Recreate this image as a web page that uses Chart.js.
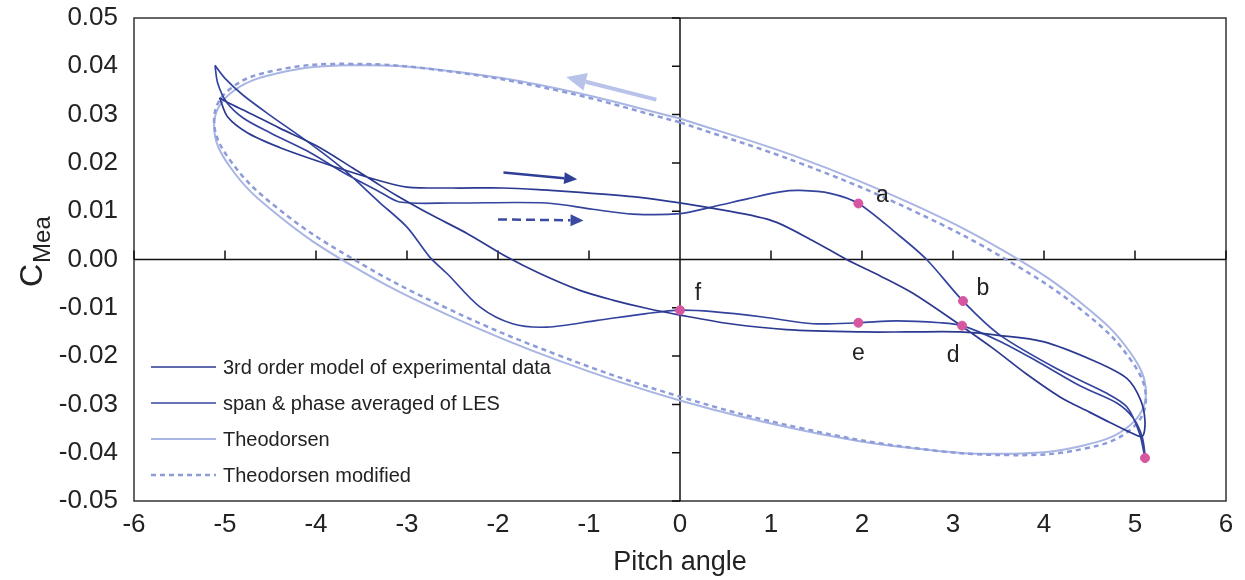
<!DOCTYPE html>
<html>
<head>
<meta charset="utf-8">
<title>Pitching moment hysteresis</title>
<script src="https://cdn.jsdelivr.net/npm/chart.js@4.4.1/dist/chart.umd.min.js"></script>
<style>
  html, body { margin: 0; padding: 0; background: #fff; }
  #wrap { width: 1245px; height: 580px; }
</style>
</head>
<body>
<div id="wrap"><canvas id="chart" width="1245" height="580"></canvas></div>
<script>
// Axis ticks
const pitchTicks = [-6, -5, -4, -3, -2, -1, 0, 1, 2, 3, 4, 5, 6];
const pitchTickLabels = ['-6', '-5', '-4', '-3', '-2', '-1', '0', '1', '2', '3', '4', '5', '6'];
const cmTicks = [-0.05, -0.04, -0.03, -0.02, -0.01, 0, 0.01, 0.02, 0.03, 0.04, 0.05];
const cmTickLabels = ['-0.05', '-0.04', '-0.03', '-0.02', '-0.01', '0.00', '0.01', '0.02', '0.03', '0.04', '0.05'];

// 3rd order model of experimental data (one pitching cycle)
const expPitch = [-5.06, -4.97, -4.75, -4.4, -4.0, -3.6, -3.3, -3.0, -2.5, -1.94, -1.5, -1.1, -0.52, -0.14, 0.3, 1.0, 1.45, 1.83, 2.2, 2.56, 3.08, 3.44, 3.8, 4.18, 4.5, 4.73, 4.95, 5.08, 5.11, 5.06, 4.91, 4.54, 3.99, 3.5, 3.08, 2.5, 2.01, 1.17, 0.55, 0.0, -0.37, -0.74, -1.1, -1.54, -1.9, -2.34, -2.75, -3.11, -3.3, -3.6, -4.0, -4.4, -4.75, -4.97, -5.06];
const expCm = [0.0335, 0.0295, 0.0262, 0.0232, 0.0205, 0.0180, 0.0163, 0.0150, 0.0148, 0.0148, 0.0144, 0.0139, 0.0130, 0.0121, 0.0108, 0.0081, 0.0040, 0.0, -0.0034, -0.0070, -0.0136, -0.0184, -0.0236, -0.0285, -0.0316, -0.0338, -0.0358, -0.0366, -0.0335, -0.0290, -0.0246, -0.0209, -0.0170, -0.0157, -0.0150, -0.0150, -0.0150, -0.0145, -0.0133, -0.0115, -0.0101, -0.0084, -0.0064, -0.0029, 0.0005, 0.0054, 0.0094, 0.0132, 0.0154, 0.0190, 0.0236, 0.0272, 0.0305, 0.0325, 0.0335];

// span & phase averaged LES (one pitching cycle)
const lesPitch = [-5.11, -5.08, -4.98, -4.8, -4.5, -4.1, -3.7, -3.3, -3.08, -2.5, -1.47, -0.96, -0.52, 0.0, 0.36, 0.75, 1.1, 1.32, 1.65, 1.96, 2.38, 2.71, 3.11, 3.52, 4.18, 4.69, 4.91, 5.05, 5.11, 5.08, 4.98, 4.8, 4.4, 3.9, 3.5, 3.1, 2.86, 2.38, 1.96, 1.46, 0.91, 0.36, 0.0, -0.37, -0.91, -1.46, -1.84, -2.2, -2.56, -2.75, -3.0, -3.3, -3.7, -4.1, -4.5, -4.8, -5.0, -5.11];
const lesCm = [0.0402, 0.0365, 0.0325, 0.0293, 0.0262, 0.0225, 0.0180, 0.0140, 0.0119, 0.0117, 0.0117, 0.0104, 0.0094, 0.0095, 0.0109, 0.0126, 0.0140, 0.0143, 0.0137, 0.0116, 0.0054, 0.0, -0.0086, -0.0157, -0.0230, -0.0277, -0.0305, -0.0360, -0.0411, -0.0368, -0.0328, -0.0297, -0.0262, -0.0208, -0.0168, -0.0137, -0.0131, -0.0127, -0.0131, -0.0133, -0.0119, -0.0108, -0.0105, -0.0112, -0.0126, -0.0140, -0.0133, -0.0098, -0.0029, 0.0005, 0.0067, 0.0118, 0.0187, 0.0245, 0.0298, 0.0340, 0.0375, 0.0402];

// Theodorsen
const theoPitch = [0, 1.325, 2.56, 3.62, 4.434, 4.946, 5.12, 4.946, 4.434, 3.62, 2.56, 1.325, 0, -1.325, -2.56, -3.62, -4.434, -4.946, -5.12, -4.946, -4.434, -3.62, -2.56, -1.325, 0];
const theoCm = [0.0292, 0.0210, 0.0114, 0.0011, -0.0094, -0.0192, -0.0277, -0.0343, -0.0385, -0.0402, -0.0391, -0.0353, -0.0292, -0.0210, -0.0114, -0.0011, 0.0094, 0.0192, 0.0277, 0.0343, 0.0385, 0.0402, 0.0391, 0.0353, 0.0292];

// Theodorsen modified
const theoModPitch = [0, 1.325, 2.56, 3.62, 4.434, 4.946, 5.12, 4.946, 4.434, 3.62, 2.56, 1.325, 0, -1.325, -2.56, -3.62, -4.434, -4.946, -5.12, -4.946, -4.434, -3.62, -2.56, -1.325, 0];
const theoModCm = [0.0284, 0.0199, 0.0101, -0.0004, -0.0108, -0.0206, -0.0289, -0.0353, -0.0392, -0.0405, -0.0390, -0.0349, -0.0284, -0.0199, -0.0101, 0.0004, 0.0108, 0.0206, 0.0289, 0.0353, 0.0392, 0.0405, 0.0390, 0.0349, 0.0284];

// Flow-phase points along the cycle
const phasePitch = [1.96, 3.11, 3.1, 1.96, 0.0, 5.11];
const phaseCm = [0.0116, -0.0086, -0.0137, -0.0131, -0.0105, -0.0411];
const phaseLabels = ['a', 'b', 'd', 'e', 'f', ''];

// Direction arrows (tail -> head, in data units)
const arrowTailPitch = [-1.94, -2.0, -0.26];
const arrowTailCm = [0.0180, 0.0083, 0.0331];
const arrowHeadPitch = [-1.13, -1.06, -1.25];
const arrowHeadCm = [0.0166, 0.0081, 0.0378];

const pts = (xs, ys) => xs.map((x, i) => ({ x, y: ys[i] }));

const FONT = '"Liberation Sans", Arial, Helvetica, sans-serif';
const TEXT = '#222';

// frame, cross axes through the origin, and their tick marks
const crossAxes = {
  id: 'crossAxes',
  beforeDatasetsDraw(chart) {
    const { ctx, chartArea: a, scales: { x, y } } = chart;
    ctx.save();
    ctx.strokeStyle = '#333';
    ctx.lineWidth = 1.5;
    ctx.strokeRect(a.left, a.top, a.right - a.left, a.bottom - a.top);
    const x0 = x.getPixelForValue(0), y0 = y.getPixelForValue(0);
    ctx.strokeStyle = '#111';
    ctx.beginPath();
    ctx.moveTo(x0, a.top); ctx.lineTo(x0, a.bottom);
    ctx.moveTo(a.left, y0); ctx.lineTo(a.right, y0);
    y.ticks.forEach(t => {
      const py = y.getPixelForValue(t.value);
      ctx.moveTo(x0 - 8, py); ctx.lineTo(x0, py);
    });
    x.ticks.forEach(t => {
      const px = x.getPixelForValue(t.value);
      ctx.moveTo(px, y0 - 9); ctx.lineTo(px, y0);
    });
    ctx.stroke();
    ctx.restore();
  }
};

// direction arrows
const arrows = {
  id: 'arrows',
  afterDatasetsDraw(chart) {
    const { ctx, scales: { x, y } } = chart;
    const styles = [
      { color: '#2f3f98', width: 2.5, dash: [], head: 13, half: 6 },
      { color: '#3a4aa0', width: 2.5, dash: [9, 5], head: 13, half: 6 },
      { color: '#b9c3ea', width: 4, dash: [], head: 20, half: 9 }
    ];
    arrowTailPitch.forEach((_, i) => {
      const s = styles[i];
      const x1 = x.getPixelForValue(arrowTailPitch[i]), y1 = y.getPixelForValue(arrowTailCm[i]);
      const x2 = x.getPixelForValue(arrowHeadPitch[i]), y2 = y.getPixelForValue(arrowHeadCm[i]);
      const ang = Math.atan2(y2 - y1, x2 - x1);
      const bx = x2 - s.head * Math.cos(ang), by = y2 - s.head * Math.sin(ang);
      ctx.save();
      ctx.strokeStyle = s.color;
      ctx.fillStyle = s.color;
      ctx.lineWidth = s.width;
      ctx.setLineDash(s.dash);
      ctx.beginPath();
      ctx.moveTo(x1, y1); ctx.lineTo(bx, by);
      ctx.stroke();
      ctx.setLineDash([]);
      ctx.beginPath();
      ctx.moveTo(x2, y2);
      ctx.lineTo(bx + s.half * Math.sin(ang), by - s.half * Math.cos(ang));
      ctx.lineTo(bx - s.half * Math.sin(ang), by + s.half * Math.cos(ang));
      ctx.closePath();
      ctx.fill();
      ctx.restore();
    });
  }
};

// letters beside the phase points
const phaseTags = {
  id: 'phaseTags',
  afterDatasetsDraw(chart) {
    const { ctx, scales: { x, y } } = chart;
    const offsets = [[24, -8], [20, -12], [-9, 30], [0, 31], [18, -17], [0, 0]];
    ctx.save();
    ctx.font = '23px ' + FONT;
    ctx.fillStyle = TEXT;
    ctx.textAlign = 'center';
    ctx.textBaseline = 'middle';
    phaseLabels.forEach((t, i) => {
      if (!t) return;
      ctx.fillText(t, x.getPixelForValue(phasePitch[i]) + offsets[i][0], y.getPixelForValue(phaseCm[i]) + offsets[i][1]);
    });
    ctx.restore();
  }
};

// legend drawn inside the plot area, lower left
const insetLegend = {
  id: 'insetLegend',
  afterDatasetsDraw(chart) {
    const { ctx, chartArea: a } = chart;
    const items = chart.data.datasets.filter(d => d.label);
    ctx.save();
    ctx.font = '20px ' + FONT;
    ctx.textBaseline = 'middle';
    ctx.textAlign = 'left';
    items.forEach((d, i) => {
      const yy = a.top + 349 + i * 36;
      const xx = a.left + 17;
      ctx.strokeStyle = d.borderColor;
      ctx.lineWidth = d.borderWidth;
      ctx.setLineDash(d.borderDash || []);
      ctx.beginPath();
      ctx.moveTo(xx, yy); ctx.lineTo(xx + 65, yy);
      ctx.stroke();
      ctx.setLineDash([]);
      ctx.fillStyle = TEXT;
      ctx.fillText(d.label, xx + 72, yy + 1);
    });
    ctx.restore();
  }
};

// rotated y-axis title with subscript
const yTitle = {
  id: 'yTitle',
  afterDraw(chart) {
    const { ctx } = chart;
    ctx.save();
    ctx.translate(42, 287);
    ctx.rotate(-Math.PI / 2);
    ctx.fillStyle = TEXT;
    ctx.textAlign = 'left';
    ctx.textBaseline = 'alphabetic';
    ctx.font = '32px ' + FONT;
    ctx.fillText('C', 0, 0);
    const w = ctx.measureText('C').width;
    ctx.font = '24px ' + FONT;
    ctx.fillText('Mea', w + 1, 8);
    ctx.restore();
  }
};

new Chart(document.getElementById('chart'), {
  type: 'scatter',
  data: {
    datasets: [
      { label: '3rd order model of experimental data', data: pts(expPitch, expCm), showLine: true,
        borderColor: '#2b3990', borderWidth: 1.7, tension: 0.3, pointRadius: 0, order: 1 },
      { label: 'span & phase averaged of LES', data: pts(lesPitch, lesCm), showLine: true,
        borderColor: '#34449e', borderWidth: 1.7, tension: 0.3, pointRadius: 0, order: 2 },
      { label: 'Theodorsen', data: pts(theoPitch, theoCm), showLine: true,
        borderColor: '#a9b5e3', borderWidth: 2, tension: 0.4, pointRadius: 0, order: 4 },
      { label: 'Theodorsen modified', data: pts(theoModPitch, theoModCm), showLine: true,
        borderColor: '#8d9cd8', borderWidth: 2.5, borderDash: [5, 4], tension: 0.4, pointRadius: 0, order: 3 },
      { data: pts(phasePitch, phaseCm), showLine: false, pointRadius: 4.5,
        pointBackgroundColor: '#d6579f', pointBorderColor: '#d6579f', order: 0 }
    ]
  },
  options: {
    responsive: false,
    animation: false,
    devicePixelRatio: 1,
    layout: { padding: { top: 18, right: 19, left: 0, bottom: 0 } },
    plugins: { legend: { display: false }, tooltip: { enabled: false } },
    scales: {
      x: {
        type: 'linear', min: -6, max: 6,
        afterBuildTicks: s => { s.ticks = pitchTicks.map(v => ({ value: v })); },
        afterFit: s => { s.height = 79; s.paddingLeft = 0; s.paddingRight = 0; },
        grid: { display: false, drawTicks: false },
        border: { display: false },
        ticks: { padding: 8, color: TEXT, font: { family: FONT, size: 26 },
                 callback: (v, i) => pitchTickLabels[i] },
        title: { display: true, text: 'Pitch angle', color: TEXT,
                 font: { family: FONT, size: 27 }, padding: { top: 0, bottom: 1 } }
      },
      y: {
        type: 'linear', min: -0.05, max: 0.05,
        afterBuildTicks: s => { s.ticks = cmTicks.map(v => ({ value: v })); },
        afterFit: s => { s.width = 134; s.paddingTop = 0; s.paddingBottom = 0; },
        grid: { display: false, drawTicks: false },
        border: { display: false },
        ticks: { padding: 16, color: TEXT, font: { family: FONT, size: 26 },
                 callback: (v, i) => cmTickLabels[i] }
      }
    }
  },
  plugins: [crossAxes, arrows, phaseTags, insetLegend, yTitle]
});
</script>
</body>
</html>
